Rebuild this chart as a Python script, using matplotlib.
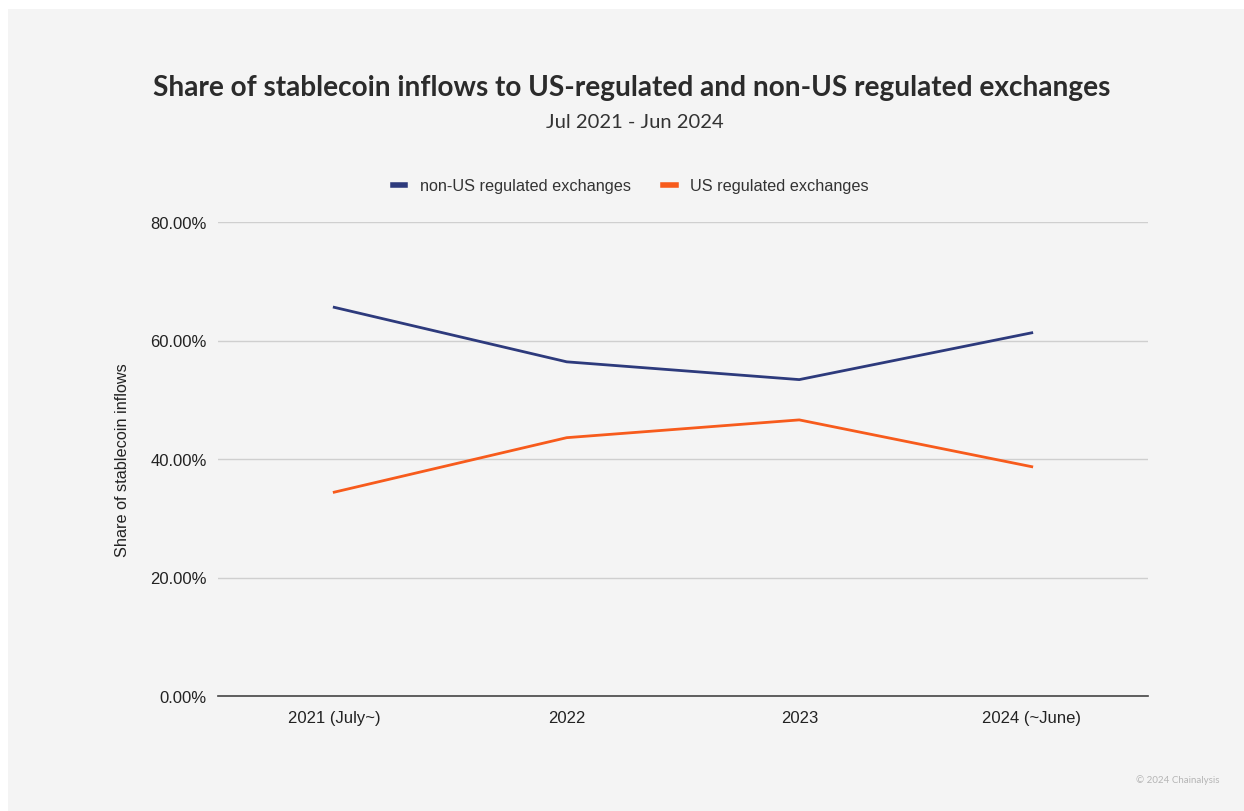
import matplotlib
matplotlib.use("Agg")
import matplotlib.pyplot as plt
from matplotlib.patches import Rectangle
from matplotlib.ticker import FuncFormatter

categories = ["2021 (July~)", "2022", "2023", "2024 (~June)"]
non_us = [65.6, 56.4, 53.4, 61.3]
us = [34.4, 43.6, 46.6, 38.7]
yticks = [0, 20, 40, 60, 80]

W, H = 1244, 812
fig = plt.figure(figsize=(W / 100, H / 100), dpi=100)
fig.patch.set_facecolor("white")
# gray panel behind the chart
fig.patches.append(Rectangle((8 / W, 0), 1, 1 - 10 / H, transform=fig.transFigure,
                             facecolor="#f4f4f4", edgecolor="none", zorder=-10))

ax = fig.add_axes([218 / W, 1 - 697 / H, (1148 - 218) / W, (697 - 223) / H])
ax.set_facecolor("#f4f4f4")

x = range(len(categories))
ax.plot(x, non_us, color="#2d3a7c", lw=2.0, label="non-US regulated exchanges")
ax.plot(x, us, color="#f75b1c", lw=2.0, label="US regulated exchanges")

ax.set_xlim(-0.5, 3.5)
ax.set_ylim(0, 80)
ax.set_xticks(list(x))
ax.set_xticklabels(categories)
ax.set_yticks(yticks)
ax.yaxis.set_major_formatter(FuncFormatter(lambda v, p: f"{v:.2f}%"))
ax.tick_params(length=0, labelsize=12, colors="#222222", labelfontfamily="Liberation Sans")
ax.tick_params(axis="x", pad=10)
ax.tick_params(axis="y", pad=8)
ax.grid(axis="y", color="#cfcfcf", lw=1)
ax.set_axisbelow(True)
for s in ["top", "right", "left"]:
    ax.spines[s].set_visible(False)
ax.spines["bottom"].set_color("#444444")
ax.spines["bottom"].set_linewidth(1.2)

ax.set_ylabel("Share of stablecoin inflows", fontsize=11.7, family="Liberation Sans",
              color="#222222")
ax.yaxis.set_label_coords((130 - 218) / (1148 - 218), 0.5)

leg = ax.legend(loc="center", bbox_to_anchor=(631 / W, 1 - 187 / H), bbox_transform=fig.transFigure,
                ncol=2, frameon=False, prop={"family": "Liberation Sans", "size": 11.7},
                handlelength=0.75, handleheight=0.5, columnspacing=2.0, handletextpad=0.9)
for line in leg.get_lines():
    line.set_linewidth(4)
for t in leg.get_texts():
    t.set_color("#333333")

fig.text(632 / W, 1 - 88 / H, "Share of stablecoin inflows to US-regulated and non-US regulated exchanges",
         ha="center", va="center", fontsize=20.2, fontweight="bold", family="Lato", color="#2b2b2b")
fig.text(635 / W, 1 - 122 / H, "Jul 2021 - Jun 2024", ha="center", va="center",
         fontsize=14.5, family="Lato", color="#333333")
fig.text(1220 / W, 1 - 780 / H, "© 2024 Chainalysis", ha="right", va="center",
         fontsize=7, family="Lato", color="#b5b5b5")

fig.savefig("out.png", dpi=100, facecolor=fig.get_facecolor())
